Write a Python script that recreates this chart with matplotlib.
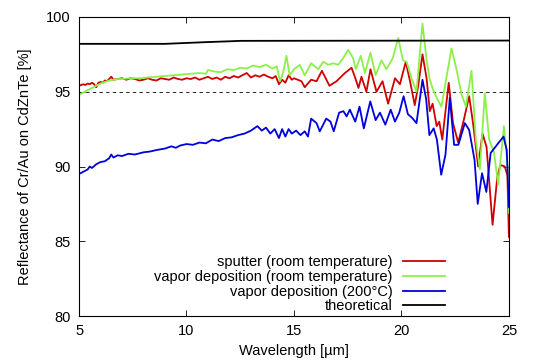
import matplotlib
matplotlib.use("Agg")
import matplotlib.pyplot as plt

plt.rcParams["font.family"] = ["Liberation Sans", "DejaVu Sans"]
plt.rcParams["font.size"] = 10.5

# sputter (room temperature)
red_wl = [5.0, 5.1, 5.2, 5.3, 5.4, 5.5, 5.6, 5.7, 5.8, 5.9, 6.0, 6.1, 6.2, 6.3,
          6.4, 6.5, 6.6, 6.8, 7.0, 7.2, 7.4, 7.6, 7.8, 8.0, 8.2, 8.4, 8.6, 8.8,
          9.0, 9.2, 9.4, 9.6, 9.8, 10.0, 10.2, 10.4, 10.6, 10.8, 11.0, 11.2,
          11.4, 11.6, 11.8, 12.0, 12.2, 12.4, 12.6, 12.8, 13.0, 13.2, 13.4,
          13.6, 13.8, 14.0, 14.15, 14.3, 14.45, 14.6, 14.75, 14.9, 15.0, 15.35,
          15.5, 15.8, 16.05, 16.3, 16.65, 16.98, 17.37, 17.68, 17.88, 18.0,
          18.14, 18.37, 18.56, 18.84, 19.12, 19.38, 19.7, 19.93, 20.2, 20.4,
          20.62, 20.78, 20.98, 21.17, 21.32, 21.45, 21.64, 21.76, 21.9, 22.2,
          22.4, 22.64, 22.9, 23.15, 23.34, 23.57, 23.77, 23.96, 24.24, 24.46,
          24.6, 24.81, 24.93, 25.0]
red_r = [95.4, 95.45, 95.5, 95.45, 95.55, 95.5, 95.6, 95.5, 95.3, 95.6, 95.65,
         95.6, 95.75, 95.7, 95.85, 96.0, 95.8, 95.85, 95.9, 95.8, 95.9, 95.85,
         95.75, 95.8, 95.9, 95.8, 95.75, 95.9, 95.85, 95.8, 95.95, 95.85, 95.8,
         95.9, 95.85, 95.95, 95.8, 95.9, 96.0, 95.85, 95.95, 95.8, 96.0, 95.9,
         96.05, 95.95, 96.1, 96.25, 95.95, 96.1, 96.0, 96.15, 96.0, 95.9, 96.05,
         95.5, 95.8, 95.6, 96.1, 95.8, 95.9, 95.7, 95.3, 95.8, 95.7, 96.4, 95.4,
         95.7, 96.25, 96.6, 95.8, 95.25, 96.0, 95.0, 96.5, 95.0, 95.7, 94.2,
         95.9, 95.5, 97.0, 95.7, 94.1, 95.4, 97.5, 95.9, 93.7, 94.2, 92.7, 93.0,
         91.8, 95.6, 92.9, 91.6, 93.1, 94.7, 92.8, 90.0, 92.2, 91.3, 86.1, 89.3,
         90.1, 90.0, 89.4, 85.3]

# vapor deposition (room temperature)
green_wl = [5.0, 5.2, 5.4, 5.6, 5.8, 6.0, 6.2, 6.4, 6.6, 6.8, 7.0, 7.4, 7.8,
            8.2, 8.6, 9.0, 9.4, 9.8, 10.2, 10.6, 10.9, 11.0, 11.3, 11.6, 11.9,
            12.2, 12.5, 12.8, 13.1, 13.4, 13.7, 14.0, 14.2, 14.35, 14.5, 14.65,
            14.8, 15.0, 15.27, 15.5, 15.8, 16.13, 16.36, 16.6, 16.83, 17.06,
            17.29, 17.52, 17.75, 17.88, 18.11, 18.3, 18.56, 18.8, 19.07, 19.3,
            19.6, 19.85, 20.07, 20.24, 20.47, 20.7, 20.98, 21.17, 21.32, 21.48,
            21.64, 21.86, 22.1, 22.33, 22.56, 22.8, 23.0, 23.26, 23.46, 23.65,
            23.88, 24.08, 24.3, 24.5, 24.77, 24.97, 25.0]
green_r = [94.8, 94.95, 95.1, 95.25, 95.4, 95.55, 95.65, 95.75, 95.8, 95.85,
           95.85, 95.9, 95.9, 95.95, 96.0, 96.05, 96.1, 96.15, 96.2, 96.25,
           96.2, 96.45, 96.35, 96.3, 96.5, 96.45, 96.6, 96.55, 96.75, 96.65,
           96.8, 96.55, 96.7, 95.7, 96.3, 97.4, 96.1, 96.5, 96.8, 96.1, 96.9,
           96.5, 97.0, 96.8, 96.9, 96.8, 97.25, 97.8, 97.25, 96.5, 97.4, 96.25,
           97.6, 96.1, 97.1, 96.5, 97.25, 98.6, 97.1, 97.0, 95.9, 95.0, 99.55,
           97.1, 95.8, 95.1, 94.6, 94.0, 96.0, 97.9, 96.5, 94.8, 94.0, 96.4,
           91.8, 89.8, 94.9, 91.8, 91.0, 88.8, 92.7, 89.5, 86.9]

# vapor deposition (200°C)
blue_wl = [5.0, 5.2, 5.4, 5.5, 5.6, 5.8, 6.0, 6.2, 6.4, 6.5, 6.6, 6.8, 7.0,
           7.3, 7.6, 8.0, 8.3, 8.6, 9.0, 9.3, 9.5, 9.7, 10.0, 10.3, 10.6, 10.9,
           11.2, 11.5, 11.8, 12.1, 12.4, 12.7, 13.0, 13.3, 13.5, 13.7, 13.9,
           14.1, 14.3, 14.45, 14.6, 14.75, 14.9, 15.1, 15.3, 15.5, 15.65, 15.8,
           16.05, 16.2, 16.5, 16.7, 16.85, 17.1, 17.3, 17.45, 17.6, 17.85,
           18.05, 18.25, 18.55, 18.8, 19.0, 19.25, 19.5, 19.7, 19.9, 20.1, 20.3,
           20.5, 20.7, 20.98, 21.15, 21.3, 21.5, 21.65, 21.85, 22.05, 22.25,
           22.45, 22.65, 22.95, 23.15, 23.4, 23.55, 23.75, 23.95, 24.15, 24.5,
           24.75, 24.9, 25.0]
blue_r = [89.5, 89.65, 89.8, 90.0, 89.9, 90.15, 90.3, 90.35, 90.55, 90.8, 90.6,
          90.75, 90.7, 90.85, 90.8, 90.95, 91.0, 91.1, 91.2, 91.35, 91.25,
          91.4, 91.5, 91.45, 91.6, 91.55, 91.8, 91.7, 91.9, 91.95, 92.1, 92.2,
          92.4, 92.7, 92.4, 92.6, 92.2, 92.5, 91.9, 92.5, 92.0, 92.5, 92.2,
          92.4, 92.1, 92.35, 92.0, 93.2, 92.9, 92.35, 93.2, 93.0, 92.35, 93.6,
          93.7, 93.35, 93.8, 93.0, 94.0, 92.55, 94.35, 93.1, 93.6, 92.8, 93.8,
          93.0, 93.6, 94.7, 93.5, 93.25, 92.9, 95.8, 94.5, 92.1, 92.55, 91.8,
          89.45, 90.8, 94.6, 91.45, 91.45, 92.9, 92.45, 90.45, 87.5, 89.55,
          88.3, 90.9, 91.55, 92.0, 91.1, 87.3]

# theoretical
theo_wl = [5.0, 9.0, 10.0, 11.0, 12.0, 12.5, 25.0]
theo_r = [98.2, 98.2, 98.26, 98.32, 98.37, 98.4, 98.42]

fig = plt.figure(figsize=(5.34, 3.6), dpi=100)
ax = fig.add_axes([0.148, 0.122, 0.805, 0.831])

ax.axhline(95, color="black", lw=0.6, ls=(0, (4, 4)))
ax.plot(red_wl, red_r, color="#d00000", lw=1.3,
        label="sputter (room temperature)")
ax.plot(green_wl, green_r, color="#8cf04a", lw=1.3,
        label="vapor deposition (room temperature)")
ax.plot(blue_wl, blue_r, color="#0000dd", lw=1.3,
        label="vapor deposition (200°C)")
ax.plot(theo_wl, theo_r, color="black", lw=1.3, label="theoretical")

ax.set_xlim(5, 25)
ax.set_ylim(80, 100)
ax.set_xticks([5, 10, 15, 20, 25])
ax.set_yticks([80, 85, 90, 95, 100])
ax.tick_params(direction="in", top=True, right=True, length=4, width=0.6,
               labelsize=10.5, pad=6)
for s in ax.spines.values():
    s.set_linewidth(0.8)
ax.set_xlabel("Wavelength [µm]", labelpad=4)
ax.set_ylabel("Reflectance of Cr/Au on CdZnTe [%]", labelpad=10)

leg = ax.legend(loc="lower right", bbox_to_anchor=(0.875, -0.025),
                markerfirst=False, frameon=False, handlelength=2.9,
                handletextpad=0.7, labelspacing=0.05, borderaxespad=0.3)
for col in leg._legend_handle_box.get_children():
    col.align = "right"

fig.savefig("out.png", dpi=100)
